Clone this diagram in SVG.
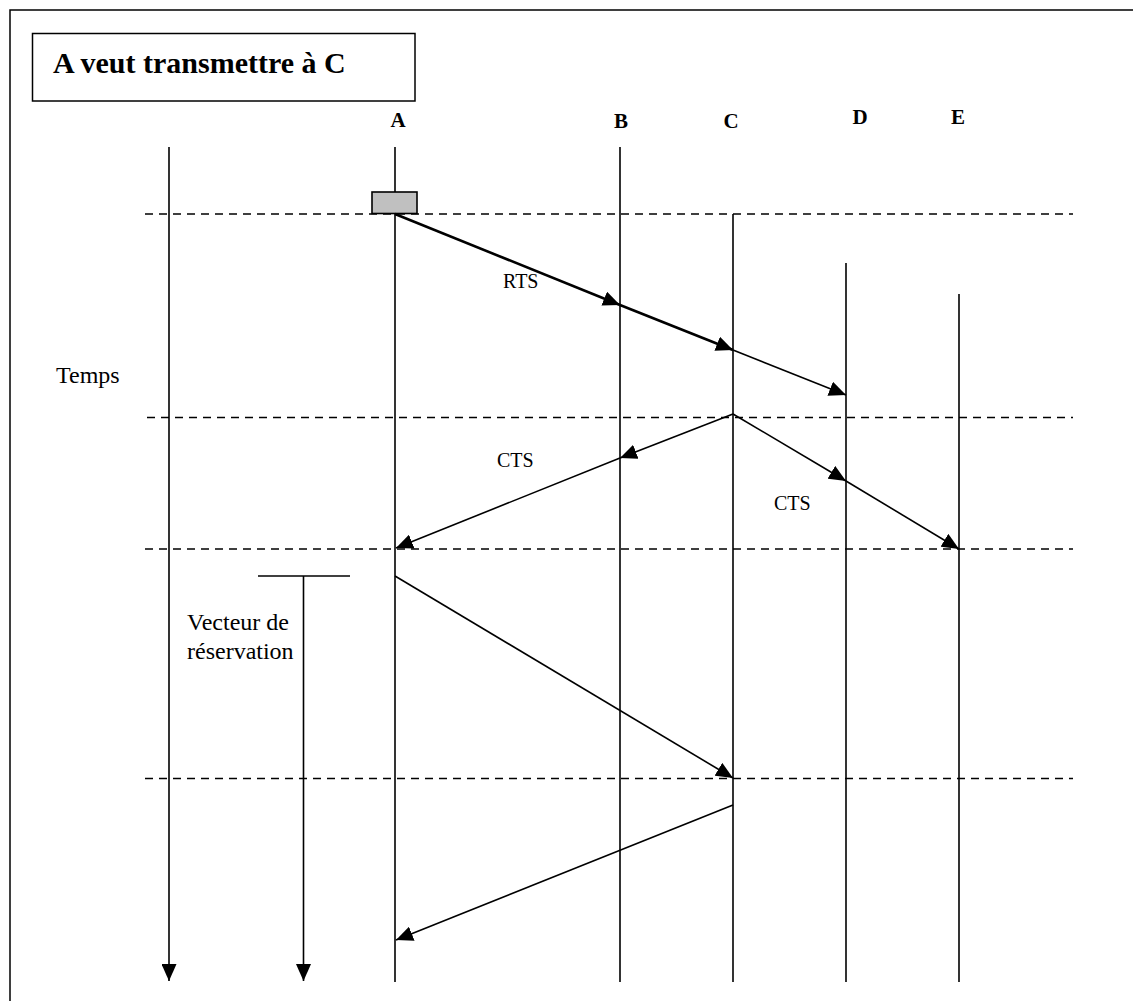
<svg xmlns="http://www.w3.org/2000/svg" width="1133" height="1001" viewBox="0 0 1133 1001">
  <style>
    .frame { fill: #ffffff; stroke: #000000; stroke-width: 1.5; }
    .life { stroke: #000000; stroke-width: 1.6; fill: none; }
    .slot { stroke: #000000; stroke-width: 1.6; stroke-dasharray: 8 6; fill: none; }
    .msg { stroke: #000000; stroke-width: 1.6; fill: none; }
    .msg-bold { stroke: #000000; stroke-width: 2.6; fill: none; }
    .title { font-family: "Liberation Serif", "Times New Roman", serif; font-weight: bold; font-size: 30px; fill: #000000; }
    .station { font-family: "Liberation Serif", "Times New Roman", serif; font-weight: bold; font-size: 21px; fill: #000000; text-anchor: middle; }
    .label { font-family: "Liberation Serif", "Times New Roman", serif; font-size: 24px; fill: #000000; }
    .frame-label { font-family: "Liberation Serif", "Times New Roman", serif; font-size: 20px; fill: #000000; }
  </style>
  <defs>
    <marker id="head" markerWidth="17" markerHeight="15" refX="17" refY="7.5" orient="auto" markerUnits="userSpaceOnUse">
      <path d="M0,0 L17,7.5 L0,15 z" fill="#000000"/>
    </marker>
  </defs>

  <!-- page frame -->
  <rect class="frame" x="10" y="10" width="1140" height="1010"/>

  <!-- title box -->
  <g id="title">
    <rect class="frame" x="32.5" y="33.5" width="382.5" height="67.5"/>
    <text class="title" x="53" y="73">A veut transmettre à C</text>
  </g>

  <!-- time axis -->
  <g id="temps">
    <line class="life" x1="169" y1="147" x2="169" y2="981" marker-end="url(#head)"/>
    <text class="label" x="56" y="383">Temps</text>
  </g>

  <!-- reservation vector (NAV) -->
  <g id="vecteur">
    <line class="life" x1="258" y1="576" x2="350" y2="576"/>
    <line class="life" x1="303.5" y1="576" x2="303.5" y2="981" marker-end="url(#head)"/>
    <text class="label" x="187" y="630">Vecteur de</text>
    <text class="label" x="187" y="659">réservation</text>
  </g>

  <!-- stations -->
  <g id="station-A">
    <text class="station" x="398" y="127">A</text>
    <line class="life" x1="395" y1="147" x2="395" y2="982"/>
    <rect x="372" y="192" width="45" height="21.5" fill="#c0c0c0" stroke="#000000" stroke-width="1.6"/>
  </g>
  <g id="station-B">
    <text class="station" x="621" y="128">B</text>
    <line class="life" x1="620" y1="147" x2="620" y2="982"/>
  </g>
  <g id="station-C">
    <text class="station" x="731" y="128">C</text>
    <line class="life" x1="733" y1="214" x2="733" y2="982"/>
  </g>
  <g id="station-D">
    <text class="station" x="860" y="124">D</text>
    <line class="life" x1="846" y1="263" x2="846" y2="982"/>
  </g>
  <g id="station-E">
    <text class="station" x="958" y="124">E</text>
    <line class="life" x1="959" y1="294" x2="959" y2="982"/>
  </g>

  <!-- time slots -->
  <g id="slots">
    <line class="slot" x1="145" y1="214" x2="1073" y2="214"/>
    <line class="slot" x1="147" y1="417.5" x2="1073" y2="417.5"/>
    <line class="slot" x1="145" y1="549" x2="1073" y2="549"/>
    <line class="slot" x1="145" y1="778.5" x2="1073" y2="778.5"/>
  </g>

  <!-- messages -->
  <g id="connectors">
    <!-- RTS from A -->
    <line class="msg-bold" x1="395" y1="214" x2="620" y2="305" marker-end="url(#head)"/>
    <line class="msg-bold" x1="620" y1="305" x2="733" y2="350" marker-end="url(#head)"/>
    <line class="msg" x1="733" y1="350" x2="846" y2="395" marker-end="url(#head)"/>
    <text class="frame-label" x="503" y="288">RTS</text>

    <!-- CTS from C -->
    <line class="msg" x1="733" y1="414" x2="620" y2="458" marker-end="url(#head)"/>
    <line class="msg" x1="620" y1="458" x2="396" y2="548" marker-end="url(#head)"/>
    <line class="msg" x1="733" y1="414" x2="846" y2="481" marker-end="url(#head)"/>
    <line class="msg" x1="846" y1="481" x2="959" y2="549" marker-end="url(#head)"/>
    <text class="frame-label" x="497" y="467">CTS</text>
    <text class="frame-label" x="774" y="510">CTS</text>

    <!-- DATA A to C -->
    <line class="msg" x1="395" y1="576" x2="733" y2="778" marker-end="url(#head)"/>

    <!-- ACK C to A -->
    <line class="msg" x1="733" y1="805" x2="396" y2="940" marker-end="url(#head)"/>
  </g>
</svg>
